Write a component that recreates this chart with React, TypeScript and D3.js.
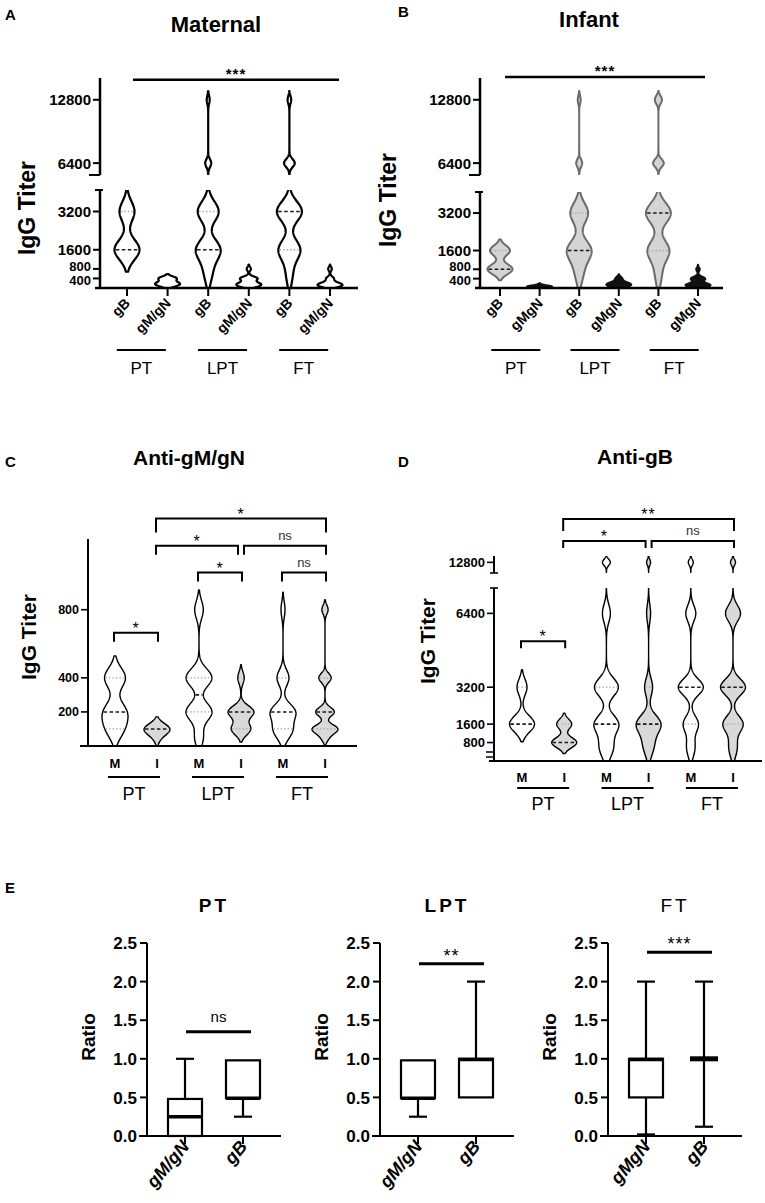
import React from "react";
import * as d3 from "d3";

const FONT = "'Liberation Sans', Arial, Helvetica, sans-serif";
const TAIL = 2.2;

// [titer, number of samples]
type Bin = [number, number];
// [from violin, to violin, height in titer units, label]
type Bracket = [number, number, number, string];

const groupNames = ["PT", "LPT", "FT"];
const titerTicksAB = [400, 800, 1600, 3200, 6400, 12800];

// A - Maternal
const maternalLabels = ["gB", "gM/gN", "gB", "gM/gN", "gB", "gM/gN"];
const maternalBins: Bin[][] = [
  [[1600, 5], [3200, 3]],
  [[100, 2], [200, 3], [400, 3]],
  [[400, 1], [800, 2], [1600, 8], [3200, 7], [6400, 2], [12800, 1]],
  [[100, 4], [200, 3], [400, 4], [800, 1]],
  [[400, 1], [800, 1], [1600, 6], [3200, 7], [6400, 3], [12800, 1]],
  [[100, 5], [200, 3], [400, 2], [800, 1]],
];
const maternalBw = [10, 2, 10, 2, 10, 2];
const maternalMedian = [1600, null, 1600, null, 3200, null];
const maternalQuartiles = [[3200], [], [3200], [], [1600], []];

// B - Infant
const infantLabels = ["gB", "gMgN", "gB", "gMgN", "gB", "gMgN"];
const infantBins: Bin[][] = [
  [[800, 5], [1600, 4]],
  [[50, 6], [100, 1]],
  [[400, 1], [800, 2], [1600, 8], [3200, 6], [6400, 2], [12800, 1]],
  [[100, 5], [200, 4], [400, 2]],
  [[400, 1], [800, 1], [1600, 6], [3200, 7], [6400, 3], [12800, 2]],
  [[100, 6], [200, 2], [400, 4], [800, 1]],
];
const infantBw = [5, 1.2, 10, 2, 10, 2];
const infantMedian = [800, null, 1600, null, 3200, null];
const infantQuartiles = [[1600], [], [3200], [], [1600], []];

// C - Anti-gM/gN
const mgnLabels = ["M", "I", "M", "I", "M", "I"];
const mgnTicks = [200, 400, 800];
const mgnBins: Bin[][] = [
  [[100, 3], [200, 4], [400, 4]],
  [[50, 1], [100, 5]],
  [[50, 1], [200, 3], [400, 3], [800, 1]],
  [[100, 3], [200, 4], [400, 1]],
  [[50, 1], [100, 4], [200, 6], [400, 3], [800, 1]],
  [[50, 1], [100, 4], [200, 3], [400, 2], [800, 1]],
];
const mgnBw = [10, 5.5, 9, 6, 8, 4.5];
const mgnMedian = [200, 100, 300, 200, 200, 200];
const mgnQuartiles = [[100, 400], [], [200, 400], [100], [100, 400], [100, 400]];
const mgnBrackets: Bracket[] = [
  [0, 1, 665, "*"],
  [2, 3, 1018, "*"],
  [4, 5, 1018, "ns"],
  [1, 3, 1176, "*"],
  [3, 5, 1176, "ns"],
  [1, 5, 1335, "*"],
];

// D - Anti-gB
const gbLabels = ["M", "I", "M", "I", "M", "I"];
const gbTicks = [800, 1600, 3200, 6400, 12800];
const gbBins: Bin[][] = [
  [[1600, 5], [3200, 2]],
  [[800, 5], [1600, 3]],
  [[400, 1], [800, 1], [1600, 3], [3200, 3], [6400, 1], [12800, 1]],
  [[400, 1], [800, 2], [1600, 6], [3200, 2], [6400, 1], [12800, 1]],
  [[400, 1], [800, 1], [1600, 3], [3200, 5], [6400, 2], [12800, 1]],
  [[400, 1], [800, 1], [1600, 4], [3200, 5], [6400, 3], [12800, 1]],
];
const gbBw = [8, 5, 9, 9, 8, 8];
const gbMedian = [1600, 800, 1600, 1600, 3200, 3200];
const gbQuartiles = [[3200], [1600], [3200], [3200], [1600], [1600]];
const gbBrackets: Bracket[] = [
  [0, 1, 5195, "*"],
  [1, 3, 13806, "*"],
  [3, 5, 13806, "ns"],
  [1, 5, 14841, "**"],
];

// E - ratios
const ratioGroups = ["PT", "LPT", "FT"];
const ratioLabels = [["gM/gN", "gB"], ["gM/gN", "gB"], ["gMgN", "gB"]];
const ratioTicks = [0, 0.5, 1.0, 1.5, 2.0, 2.5];
const ratioMin = [[0, 0.25], [0.25, 0.5], [0.02, 0.12]];
const ratioQ1 = [[0, 0.49], [0.49, 0.5], [0.5, 1.0]];
const ratioMedian = [[0.25, 0.49], [0.49, 0.99], [0.99, 1.0]];
const ratioQ3 = [[0.48, 0.98], [0.98, 1.0], [1.0, 1.0]];
const ratioMax = [[1.0, 0.98], [0.98, 2.0], [2.0, 2.0]];
const ratioSig = ["ns", "**", "***"];
const ratioSigAt = [1.35, 2.23, 2.38];

type Seg = { domain: [number, number]; range: [number, number] };

function brokenScale(segs: Seg[]) {
  const scales = segs.map((s) => d3.scaleLinear().domain(s.domain).range(s.range));
  const segOf = (v: number) => {
    for (let i = 0; i < segs.length; i++) {
      if (v <= segs[i].domain[1]) return i;
    }
    return segs.length - 1;
  };
  return { y: (v: number) => scales[segOf(v)](v), segOf };
}

type ViolinProps = {
  id: string;
  letterPos: [number, number];
  title: string;
  titlePos: [number, number];
  titleSize: number;
  yLabelPos: [number, number];
  yLabelSize: number;
  axisX: number;
  xAxisSpan: [number, number];
  axisW: number;
  segs: Seg[];
  upperBw?: number;
  caps?: { lowerTop: [number, number]; upperBottom: [number, number] };
  extraBreaks?: number[];
  ticks: number[];
  tickSize: number;
  tickNudge?: Record<number, number>;
  xRange: [number, number];
  labels: string[];
  rotateLabels: boolean;
  labelSize: number;
  labelY: number;
  groupShift: number;
  groupLen: number;
  underlineY: number;
  groupY: number;
  groupSize: number;
  bins: Bin[][];
  bw: number[];
  medians: (number | null)[];
  quartiles: number[][];
  halfW: number;
  fills: string[];
  strokes: string[];
  strokeW: number;
  sig?: { label: string; at: number; pad: [number, number] };
  brackets?: Bracket[];
  bracketLeg?: number;
};

function ViolinPanel(p: ViolinProps) {
  const { y, segOf } = brokenScale(p.segs);
  const x = d3.scalePoint<number>().domain(d3.range(p.bins.length)).range(p.xRange);
  const xAxisY = p.segs[0].range[0];
  const clipId = `clip-${p.id}`;

  const shapes = p.bins.map((bins, i) => {
    const pts = bins.map(([v, n]) => ({
      py: y(v),
      n,
      s: segOf(v) > 0 && p.upperBw ? p.upperBw : p.bw[i],
    }));
    const dens = (yy: number) =>
      d3.sum(pts, (q) => q.n * Math.exp(-0.5 * ((yy - q.py) / q.s) ** 2));
    const top = d3.min(pts, (q) => q.py - TAIL * q.s)!;
    const bot = d3.max(pts, (q) => q.py + TAIL * q.s)!;
    const samples = d3
      .range(top, bot, 0.5)
      .concat([bot])
      .map((yy) => ({ yy, d: dens(yy) }));
    const peak = d3.max(samples, (s) => s.d)!;
    const cx = x(i)!;
    const half = (d: number) => (d / peak) * p.halfW;
    const area = d3
      .area<{ yy: number; d: number }>()
      .x0((s) => cx - half(s.d))
      .x1((s) => cx + half(s.d))
      .y((s) => s.yy);
    return { cx, path: area(samples)!, wAt: (yy: number) => half(dens(yy)) };
  });

  const lowerSeg = p.segs[0];
  const nudge = p.tickNudge || {};

  return (
    <g>
      <defs>
        <clipPath id={clipId}>
          {p.segs.map((s, i) => (
            <rect key={i} x={0} width={765} y={s.range[1]} height={s.range[0] - s.range[1]} />
          ))}
        </clipPath>
      </defs>

      <text x={p.letterPos[0]} y={p.letterPos[1]} fontSize={15} fontWeight="bold">
        {p.id}
      </text>
      <text x={p.titlePos[0]} y={p.titlePos[1]} fontSize={p.titleSize} fontWeight="bold" textAnchor="middle">
        {p.title}
      </text>
      <text
        transform={`translate(${p.yLabelPos[0]},${p.yLabelPos[1]}) rotate(-90)`}
        fontSize={p.yLabelSize}
        fontWeight="bold"
        textAnchor="middle"
      >
        IgG Titer
      </text>

      {/* violins */}
      <g clipPath={`url(#${clipId})`}>
        {shapes.map((s, i) => (
          <path
            key={i}
            d={s.path}
            fill={p.fills[i]}
            stroke={p.strokes[i]}
            strokeWidth={p.strokeW}
            strokeLinejoin="round"
          />
        ))}
        {shapes.map((s, i) => {
          const lines: JSX.Element[] = [];
          p.quartiles[i].forEach((q, k) => {
            const yy = y(q);
            const w = Math.max(0, s.wAt(yy) - p.strokeW * 0.6);
            lines.push(
              <line key={`q${k}`} x1={s.cx - w} x2={s.cx + w} y1={yy} y2={yy}
                stroke="#a8a8a8" strokeWidth={1.3} strokeDasharray="1.5 2" />
            );
          });
          const m = p.medians[i];
          if (m != null) {
            const yy = y(m);
            const w = Math.max(0, s.wAt(yy) - p.strokeW * 0.6);
            lines.push(
              <line key="m" x1={s.cx - w} x2={s.cx + w} y1={yy} y2={yy}
                stroke="#1a1a1a" strokeWidth={1.6} strokeDasharray="3.5 2.5" />
            );
          }
          return <g key={`l${i}`}>{lines}</g>;
        })}
      </g>

      {/* y axis segments */}
      {p.segs.map((s, i) => (
        <line key={`ax${i}`} x1={p.axisX} x2={p.axisX} y1={s.range[0]} y2={s.range[1]}
          stroke="#000" strokeWidth={p.axisW} />
      ))}
      {p.caps && (
        <g stroke="#000" strokeWidth={p.axisW * 0.8}>
          <line x1={p.axisX + p.caps.lowerTop[0]} x2={p.axisX + p.caps.lowerTop[1]}
            y1={lowerSeg.range[1]} y2={lowerSeg.range[1]} />
          <line x1={p.axisX + p.caps.upperBottom[0]} x2={p.axisX + p.caps.upperBottom[1]}
            y1={p.segs[1].range[0]} y2={p.segs[1].range[0]} />
        </g>
      )}
      {(p.extraBreaks || []).map((b, i) => (
        <line key={`br${i}`} x1={p.axisX - 8} x2={p.axisX} y1={b} y2={b} stroke="#000" strokeWidth={1.5} />
      ))}
      {p.ticks.map((t) => (
        <g key={t} transform={`translate(0,${y(t)})`}>
          <line x1={p.axisX - 7} x2={p.axisX} stroke="#000" strokeWidth={p.axisW * 0.8} />
          <text
            x={p.axisX - 9}
            y={nudge[t] || 0}
            dy="0.36em"
            textAnchor="end"
            fontSize={t in nudge ? p.tickSize - 2 : p.tickSize}
            fontWeight="bold"
          >
            {t}
          </text>
        </g>
      ))}

      {/* x axis */}
      <line x1={p.xAxisSpan[0]} x2={p.xAxisSpan[1]} y1={xAxisY} y2={xAxisY} stroke="#000" strokeWidth={p.axisW} />
      {p.labels.map((l, i) =>
        p.rotateLabels ? (
          <g key={i}>
            <line x1={x(i)} x2={x(i)} y1={xAxisY} y2={xAxisY + 8} stroke="#000" strokeWidth={2} />
            <text
              transform={`translate(${x(i)! + 4},${p.labelY}) rotate(-45)`}
              textAnchor="end"
              fontSize={p.labelSize}
              fontWeight="bold"
            >
              {l}
            </text>
          </g>
        ) : (
          <text key={i} x={x(i)} y={p.labelY} textAnchor="middle" fontSize={p.labelSize} fontWeight="bold">
            {l}
          </text>
        )
      )}
      {groupNames.map((g, k) => {
        const c = (x(2 * k)! + x(2 * k + 1)!) / 2 + p.groupShift;
        return (
          <g key={g}>
            <line x1={c - p.groupLen / 2} x2={c + p.groupLen / 2} y1={p.underlineY} y2={p.underlineY}
              stroke="#000" strokeWidth={2} />
            <text x={c} y={p.groupY} textAnchor="middle" fontSize={p.groupSize}>
              {g}
            </text>
          </g>
        );
      })}

      {/* significance */}
      {p.sig && (
        <g>
          <line x1={x(0)! + p.sig.pad[0]} x2={x(p.bins.length - 1)! + p.sig.pad[1]}
            y1={y(p.sig.at)} y2={y(p.sig.at)} stroke="#000" strokeWidth={2.5} />
          <text x={(x(0)! + p.sig.pad[0] + x(p.bins.length - 1)! + p.sig.pad[1]) / 2} y={y(p.sig.at) - 1}
            textAnchor="middle" fontSize={15} fontWeight="bold" letterSpacing={1}>
            {p.sig.label}
          </text>
        </g>
      )}
      {(p.brackets || []).map(([a, b, at, label], k, all) => {
        const by = y(at);
        const startsAfter = all.some((o) => o !== all[k] && o[2] === at && o[1] === a);
        const endsBefore = all.some((o) => o !== all[k] && o[2] === at && o[0] === b);
        const x1 = x(a)! + (startsAfter ? 3 : -1);
        const x2 = x(b)! + (endsBefore ? -3 : 1);
        const outer = b - a > 2;
        const leg = (p.bracketLeg || 8) + (outer ? 5 : 0);
        const star = label.includes("*");
        return (
          <g key={`bk${k}`}>
            <path d={`M${x1},${by + leg}V${by}H${x2}V${by + leg}`} fill="none" stroke="#000" strokeWidth={2} />
            <text x={(x1 + x2) / 2} y={star ? by + 1 : by - 6} textAnchor="middle"
              fontSize={star ? 16 : 13} fill={star ? "#000" : "#333"} letterSpacing={star ? 1 : 0}>
              {label}
            </text>
          </g>
        );
      })}
    </g>
  );
}

const ratioAxisX = [147, 380, 608];

function RatioPanel({ i }: { i: number }) {
  const ax = ratioAxisX[i];
  const yS = d3.scaleLinear().domain([0, 2.5]).range([1136, 943]);
  const xS = d3.scalePoint<number>().domain([0, 1]).range([ax + 38, ax + 96]);
  const boxW = 34;
  const capW = 18;
  const sigX1 = xS(0)! + 1;
  const sigX2 = xS(1)! + 8;
  const star = ratioSig[i].includes("*");
  return (
    <g>
      <text x={ax + 67} y={912} textAnchor="middle" fontSize={19} fontWeight={i === 2 ? "normal" : "bold"}
        letterSpacing={3}>
        {ratioGroups[i]}
      </text>
      <text transform={`translate(${ax - 52},1037) rotate(-90)`} textAnchor="middle" fontSize={19} fontWeight="bold">
        Ratio
      </text>
      <line x1={ax} x2={ax} y1={yS(0)} y2={yS(2.5)} stroke="#000" strokeWidth={2} />
      <line x1={ax - 8} x2={ax + 134} y1={yS(0)} y2={yS(0)} stroke="#000" strokeWidth={2} />
      {ratioTicks.map((t) => (
        <g key={t} transform={`translate(0,${yS(t)})`}>
          <line x1={ax - 7} x2={ax} stroke="#000" strokeWidth={2} />
          <text x={ax - 10} dy="0.36em" textAnchor="end" fontSize={17} fontWeight="bold">
            {t.toFixed(1)}
          </text>
        </g>
      ))}
      {[0, 1].map((j) => {
        const cx = xS(j)!;
        const q1 = yS(ratioQ1[i][j]);
        const q3 = yS(ratioQ3[i][j]);
        const md = yS(ratioMedian[i][j]);
        const lo = yS(ratioMin[i][j]);
        const hi = yS(ratioMax[i][j]);
        const flat = q1 - q3 < 3;
        return (
          <g key={j} stroke="#000" strokeWidth={2.2}>
            {ratioMax[i][j] > ratioQ3[i][j] && (
              <>
                <line x1={cx} x2={cx} y1={q3} y2={hi} />
                <line x1={cx - capW / 2} x2={cx + capW / 2} y1={hi} y2={hi} />
              </>
            )}
            {ratioMin[i][j] < ratioQ1[i][j] && (
              <>
                <line x1={cx} x2={cx} y1={q1} y2={lo} />
                <line x1={cx - capW / 2} x2={cx + capW / 2} y1={lo} y2={lo} />
              </>
            )}
            <rect x={cx - boxW / 2} width={boxW} y={q3} height={Math.max(0, q1 - q3)} fill="#fff" />
            <line x1={cx - (flat ? boxW / 2 - 3 : boxW / 2)} x2={cx + (flat ? boxW / 2 - 3 : boxW / 2)}
              y1={md} y2={md} strokeWidth={flat ? 5 : 3.5} />
            <line x1={cx} x2={cx} y1={yS(0)} y2={yS(0) + 8} strokeWidth={2} />
            <text
              transform={`translate(${cx + 5},${1147}) rotate(-50)`}
              textAnchor="end"
              fontSize={18}
              fontWeight="bold"
              fontStyle="italic"
              stroke="none"
            >
              {ratioLabels[i][j]}
            </text>
          </g>
        );
      })}
      <line x1={sigX1} x2={sigX2} y1={yS(ratioSigAt[i])} y2={yS(ratioSigAt[i])} stroke="#000" strokeWidth={3} />
      <text x={(sigX1 + sigX2) / 2} y={yS(ratioSigAt[i]) - (star ? 2 : 10)} textAnchor="middle"
        fontSize={star ? 18 : 15} letterSpacing={star ? 1 : 0}>
        {ratioSig[i]}
      </text>
    </g>
  );
}

const white = Array(6).fill("#fff");
const black = Array(6).fill("#000");
const mi = ["#fff", "#d9d9d9", "#fff", "#d9d9d9", "#fff", "#d9d9d9"];
const infantFill = ["#d4d4d4", "#111", "#d4d4d4", "#111", "#d4d4d4", "#111"];
const infantStroke = ["#6b6b6b", "#111", "#6b6b6b", "#111", "#6b6b6b", "#111"];
const lowTickNudge = { 800: -2.5, 400: 2 };

export default function App() {
  return (
    <svg width={765} height={1203} style={{ position: "absolute", left: 0, top: 0, background: "#fff" }}
      fontFamily={FONT}>
      <rect width={765} height={1203} fill="#fff" />
      <ViolinPanel
        id="A" letterPos={[5, 20]} title="Maternal" titlePos={[216, 32]} titleSize={22}
        yLabelPos={[35, 208]} yLabelSize={23}
        axisX={100} xAxisSpan={[95, 358]} axisW={2.5}
        segs={[{ domain: [0, 4100], range: [288, 190] }, { domain: [5200, 15000], range: [175, 78] }]}
        upperBw={4}
        caps={{ lowerTop: [-5, 3], upperBottom: [-11, 0] }}
        ticks={titerTicksAB} tickSize={15} tickNudge={lowTickNudge}
        xRange={[127, 330]} labels={maternalLabels} rotateLabels labelSize={14} labelY={304}
        groupShift={-6} groupLen={49} underlineY={350} groupY={374} groupSize={17}
        bins={maternalBins} bw={maternalBw} medians={maternalMedian} quartiles={maternalQuartiles}
        halfW={12.5} fills={white} strokes={black} strokeW={2.2}
        sig={{ label: "***", at: 14832, pad: [6, 9] }}
      />
      <ViolinPanel
        id="B" letterPos={[398, 17]} title="Infant" titlePos={[589, 27]} titleSize={22}
        yLabelPos={[396, 200]} yLabelSize={23}
        axisX={480} xAxisSpan={[475, 723]} axisW={2.5}
        segs={[{ domain: [0, 4100], range: [288, 192] }, { domain: [5200, 15000], range: [175, 78] }]}
        upperBw={4}
        caps={{ lowerTop: [-5, 3], upperBottom: [-11, 0] }}
        ticks={titerTicksAB} tickSize={15} tickNudge={lowTickNudge}
        xRange={[500, 698]} labels={infantLabels} rotateLabels labelSize={14} labelY={304}
        groupShift={-4} groupLen={49} underlineY={350} groupY={374} groupSize={17}
        bins={infantBins} bw={infantBw} medians={infantMedian} quartiles={infantQuartiles}
        halfW={12.5} fills={infantFill} strokes={infantStroke} strokeW={2}
        sig={{ label: "***", at: 15100, pad: [5, 7] }}
      />
      <ViolinPanel
        id="C" letterPos={[5, 467]} title="Anti-gM/gN" titlePos={[189, 465]} titleSize={21}
        yLabelPos={[36, 637]} yLabelSize={21}
        axisX={88} xAxisSpan={[80, 357]} axisW={2}
        segs={[{ domain: [0, 1215], range: [746, 539] }]}
        ticks={mgnTicks} tickSize={12.5}
        xRange={[115, 325]} labels={mgnLabels} rotateLabels={false} labelSize={13} labelY={768}
        groupShift={-2} groupLen={52} underlineY={777} groupY={800} groupSize={18}
        bins={mgnBins} bw={mgnBw} medians={mgnMedian} quartiles={mgnQuartiles}
        halfW={13} fills={mi} strokes={black} strokeW={1.4}
        brackets={mgnBrackets} bracketLeg={9}
      />
      <ViolinPanel
        id="D" letterPos={[398, 467]} title="Anti-gB" titlePos={[635, 464]} titleSize={21}
        yLabelPos={[435, 641]} yLabelSize={21}
        axisX={494} xAxisSpan={[489, 762]} axisW={2}
        segs={[{ domain: [0, 7500], range: [761, 588] }, { domain: [12300, 13100], range: [573, 556] }]}
        upperBw={3}
        caps={{ lowerTop: [-4, 4], upperBottom: [-4, 4] }}
        extraBreaks={[752, 757]}
        ticks={gbTicks} tickSize={13}
        xRange={[522, 733]} labels={gbLabels} rotateLabels={false} labelSize={13} labelY={782}
        groupShift={0} groupLen={52} underlineY={788} groupY={810} groupSize={18}
        bins={gbBins} bw={gbBw} medians={gbMedian} quartiles={gbQuartiles}
        halfW={12.5} fills={mi} strokes={black} strokeW={1.4}
        brackets={gbBrackets} bracketLeg={7}
      />
      <text x={5} y={893} fontSize={15} fontWeight="bold">E</text>
      {[0, 1, 2].map((i) => (
        <RatioPanel key={i} i={i} />
      ))}
    </svg>
  );
}
